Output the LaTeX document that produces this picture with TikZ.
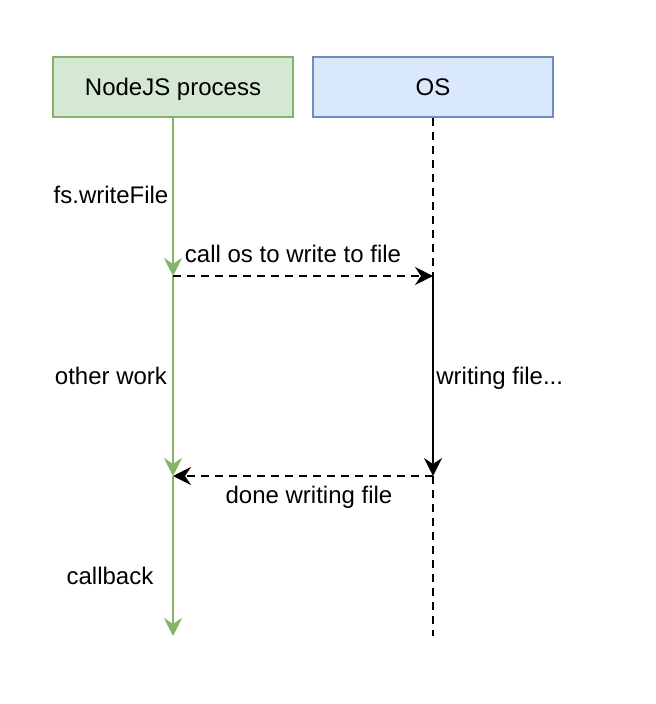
\documentclass[tikz,border=0pt]{standalone}
\usepackage{fontspec}
\setmainfont{Liberation Sans}
\usetikzlibrary{arrows.meta}
\definecolor{procfill}{HTML}{D5E8D4}
\definecolor{procdraw}{HTML}{82B366}
\definecolor{osfill}{HTML}{DAE8FC}
\definecolor{osdraw}{HTML}{6C8EBF}
\tikzstyle{actor}=[rectangle,line width=1pt,minimum width=120pt,minimum height=30pt,inner sep=0pt,text height=8.6pt,text depth=0pt,font=\fontsize{12}{14}\selectfont]
\tikzstyle{proc}=[actor,draw=procdraw,fill=procfill]
\tikzstyle{sys}=[actor,draw=osdraw,fill=osfill]
\tikzstyle{tip}=[-{Stealth[length=9pt,width=9pt,inset=3pt]}]
\tikzstyle{busy}=[line width=1pt,procdraw,tip]
\tikzstyle{idle}=[line width=1pt,black,dash pattern=on 4pt off 3pt]
\tikzstyle{work}=[line width=1pt,black,tip]
\tikzstyle{msg}=[line width=1pt,black,dash pattern=on 4pt off 3pt,tip]
\tikzstyle{note}=[inner sep=0pt,anchor=base,font=\fontsize{12}{14}\selectfont]

\begin{document}
\begin{tikzpicture}[x=0.5pt,y=-0.5pt]
			\useasboundingbox (0,0) rectangle (656,704);
			\node (node) at (173,87) [proc] {NodeJS process};
			\node (os) at (433,87) [sys] {OS};
			
			\coordinate (n1) at (173,276);
			\coordinate (n2) at (173,476);
			\coordinate (n3) at (173,636);
			\coordinate (o1) at (433,276);
			\coordinate (o2) at (433,476);
			\coordinate (o3) at (433,636);
			
			\draw [busy] (node) -- (n1);
			\draw [busy] (n1) -- (n2);
			\draw [busy] (n2) -- (n3);
			
			\draw [idle] (os) -- (o1);
			\draw [work] (o1) -- (o2);
			\draw [idle] (o2) -- (o3);
			
			\draw [msg] (n1) -- (o1);
			\draw [msg] (o2) -- (n2);
			
			\node (write) at (111,204) [note] {fs.writeFile};
			\node (call) at (293,263) [note] {call os to write to file};
			\node (other) at (111,384) [note] {other work};
			\node (writing) at (436,384) [note,anchor=base west] {writing file...};
			\node (done) at (309,503) [note] {done writing file};
			\node (back) at (110,584) [note] {callback};
		\end{tikzpicture}
\end{document}
